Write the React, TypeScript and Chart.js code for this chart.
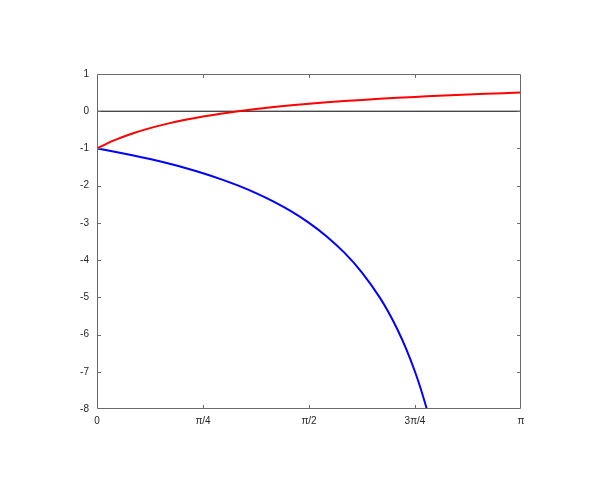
import React, { useEffect, useRef } from "react";
import { Chart, registerables } from "chart.js";

Chart.register(...registerables);

const redX = [0, 0.0654, 0.1309, 0.2618, 0.3927, 0.5236, 0.6545, 0.7854, 0.9163, 1.0472, 1.1781, 1.309, 1.4399, 1.5708, 1.7017, 1.8326, 1.9635, 2.0944, 2.2253, 2.3562, 2.4871, 2.618, 2.7489, 2.8798, 3.0107, 3.1416];
const redY = [-1, -0.882, -0.778, -0.6, -0.455, -0.333, -0.231, -0.143, -0.067, 0, 0.059, 0.111, 0.158, 0.2, 0.238, 0.273, 0.304, 0.333, 0.36, 0.385, 0.407, 0.429, 0.448, 0.467, 0.484, 0.5];

const blueX = [0, 0.1309, 0.2618, 0.3927, 0.5236, 0.6545, 0.7854, 0.9163, 1.0472, 1.1781, 1.309, 1.4399, 1.5708, 1.7017, 1.8326, 1.9635, 2.0944, 2.1599, 2.2253, 2.2907, 2.3562, 2.3998, 2.4435];
const blueY = [-1, -1.087, -1.182, -1.286, -1.4, -1.526, -1.667, -1.824, -2, -2.2, -2.429, -2.692, -3, -3.364, -3.8, -4.333, -5, -5.4, -5.857, -6.385, -7, -7.47, -8];

const zeroX = [0, 3.1416];
const zeroY = [0, 0];

const xTickValues = [0, 0.7854, 1.5708, 2.3562, 3.1416];
const xTickLabels = ["0", "π/4", "π/2", "3π/4", "π"];
const yMin = -8;
const yMax = 1;

const boxPlugin = {
  id: "boxTicks",
  afterDraw(chart: any) {
    const { ctx, chartArea: a, scales } = chart;
    const xs = scales.x;
    const ys = scales.y;
    ctx.save();
    ctx.strokeStyle = "#6a6a6a";
    ctx.lineWidth = 1;
    ctx.beginPath();
    ctx.rect(a.left + 0.5, a.top + 0.5, a.right - a.left - 1, a.bottom - a.top - 1);
    const tl = 4;
    xTickValues.slice(1, -1).forEach((v) => {
      const px = Math.round(xs.getPixelForValue(v)) + 0.5;
      ctx.moveTo(px, a.bottom);
      ctx.lineTo(px, a.bottom - tl);
      ctx.moveTo(px, a.top);
      ctx.lineTo(px, a.top + tl);
    });
    for (let v = yMin + 1; v < yMax; v++) {
      const py = Math.round(ys.getPixelForValue(v)) + 0.5;
      ctx.moveTo(a.left, py);
      ctx.lineTo(a.left + tl, py);
      ctx.moveTo(a.right, py);
      ctx.lineTo(a.right - tl, py);
    }
    ctx.stroke();
    ctx.restore();
  },
};

export default function App() {
  const ref = useRef<HTMLCanvasElement>(null);
  useEffect(() => {
    document.body.style.margin = "0";
    const toPts = (xa: number[], ya: number[]) => xa.map((x, i) => ({ x, y: ya[i] }));
    const chart = new Chart(ref.current as HTMLCanvasElement, {
      type: "line",
      data: {
        datasets: [
          {
            data: toPts(redX, redY),
            borderColor: "#ff0000",
            borderWidth: 2,
            pointRadius: 0,
            cubicInterpolationMode: "monotone",
          },
          {
            data: toPts(blueX, blueY),
            borderColor: "#0000ff",
            borderWidth: 2,
            pointRadius: 0,
            cubicInterpolationMode: "monotone",
          },
          {
            data: toPts(zeroX, zeroY),
            borderColor: "#000000",
            borderWidth: 1,
            pointRadius: 0,
          },
        ],
      },
      options: {
        animation: false,
        responsive: false,
        maintainAspectRatio: false,
        layout: { padding: { left: 67, right: 77, top: 74, bottom: 59 } },
        plugins: { legend: { display: false }, tooltip: { enabled: false } },
        scales: {
          x: {
            type: "linear",
            min: 0,
            max: 3.1416,
            grid: { display: false },
            border: { display: false },
            afterBuildTicks: (s: any) => {
              s.ticks = xTickValues.map((v) => ({ value: v }));
            },
            afterFit: (s: any) => {
              s.height = 30;
            },
            ticks: {
              padding: -2,
              color: "#262626",
              font: { family: "Liberation Sans", size: 10 },
              maxRotation: 0,
              autoSkip: false,
              callback: (v: any) => {
                const i = xTickValues.findIndex((t) => Math.abs(t - v) < 1e-3);
                return i >= 0 ? xTickLabels[i] : "";
              },
            },
          },
          y: {
            type: "linear",
            min: yMin,
            max: yMax,
            grid: { display: false },
            border: { display: false },
            afterFit: (s: any) => {
              s.width = 30;
            },
            ticks: {
              stepSize: 1,
              padding: 0,
              color: "#262626",
              font: { family: "Liberation Sans", size: 10 },
            },
          },
        },
      },
      plugins: [boxPlugin],
    } as any);
    return () => chart.destroy();
  }, []);
  return (
    <div style={{ position: "absolute", left: 0, top: 0, width: 598, height: 498 }}>
      <canvas ref={ref} width={598} height={498} style={{ width: 598, height: 498 }} />
    </div>
  );
}
